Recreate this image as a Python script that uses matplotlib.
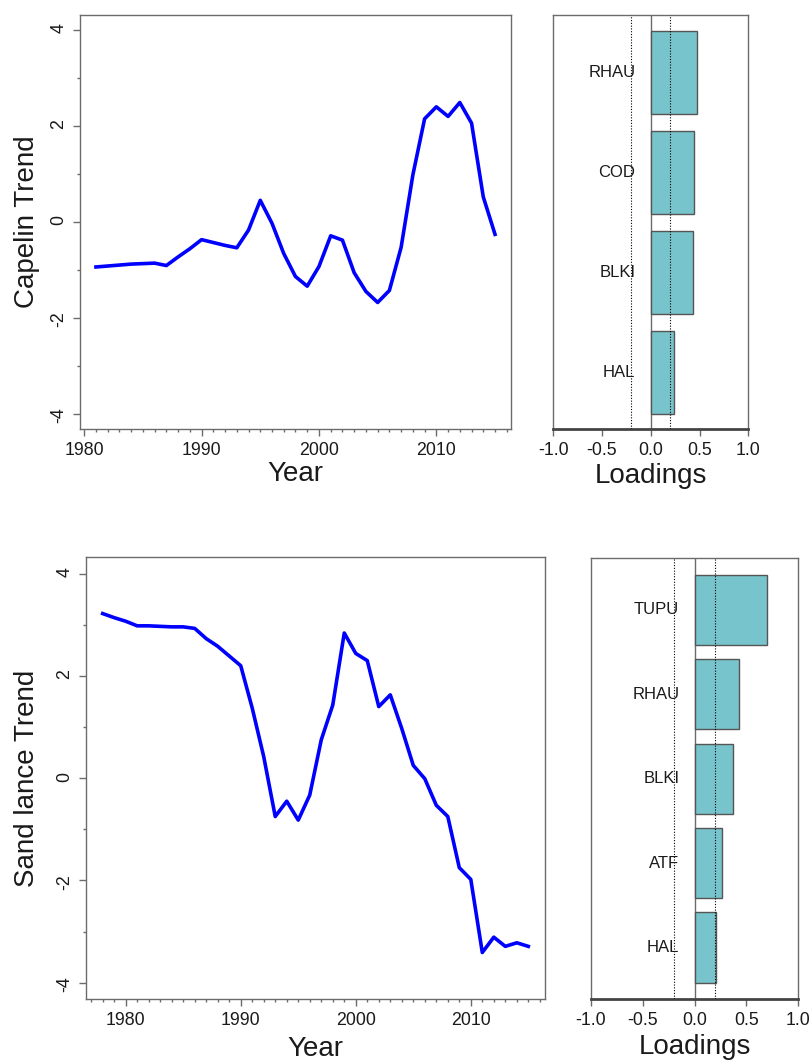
import numpy as np
import matplotlib
matplotlib.use("Agg")
import matplotlib.pyplot as plt
from matplotlib.ticker import MultipleLocator, FormatStrFormatter

plt.rcParams['font.family'] = ['Liberation Sans', 'DejaVu Sans']
plt.rcParams['axes.unicode_minus'] = False

# capelin trend (top row)
cap_years = np.arange(1981, 2016)
cap_trend = [-0.94, -0.92, -0.90, -0.88, -0.87, -0.86, -0.91, -0.73, -0.56, -0.37,
             -0.43, -0.49, -0.54, -0.17, 0.45, -0.03, -0.66, -1.14, -1.34, -0.93,
             -0.29, -0.38, -1.06, -1.45, -1.68, -1.43, -0.53, 0.98, 2.15, 2.40,
             2.20, 2.49, 2.06, 0.52, -0.26]
cap_names = ["HAL", "BLKI", "COD", "RHAU"]
cap_load = [0.24, 0.43, 0.44, 0.47]

# sand lance trend (bottom row)
sl_years = np.arange(1978, 2016)
sl_trend = [3.22, 3.14, 3.07, 2.98, 2.98, 2.97, 2.96, 2.96, 2.93, 2.73,
            2.58, 2.39, 2.20, 1.37, 0.42, -0.75, -0.45, -0.82, -0.33, 0.75,
            1.43, 2.84, 2.44, 2.30, 1.40, 1.63, 0.97, 0.25, -0.01, -0.53,
            -0.75, -1.75, -1.98, -3.41, -3.11, -3.29, -3.22, -3.29]
sl_names = ["HAL", "ATF", "BLKI", "RHAU", "TUPU"]
sl_load = [0.21, 0.26, 0.37, 0.43, 0.70]

BOX = "#6b6b6b"
BAR = "#78c4cc"
TXT = "#1a1a1a"

fig = plt.figure(figsize=(8.12, 10.62), dpi=100)


def style(ax):
    for s in ax.spines.values():
        s.set_color(BOX)
        s.set_linewidth(1)
    ax.tick_params(which='both', direction='out', color=BOX, labelcolor=TXT,
                   labelsize=12.8, top=False, right=False)
    ax.tick_params(which='major', length=5, width=1, pad=4)
    ax.tick_params(which='minor', length=2.5, width=1)


def trend_panel(rect, years, vals, ylabel, xlab_y, ylab_x):
    ax = fig.add_axes(rect)
    ax.plot(years, vals, color="#0000ff", lw=2.6, solid_joinstyle='round')
    span = years[-1] - years[0]
    ax.set_xlim(years[0] - 0.04 * span, years[-1] + 0.04 * span)
    ax.set_ylim(-4.32, 4.32)
    ax.xaxis.set_major_locator(MultipleLocator(10))
    ax.xaxis.set_minor_locator(MultipleLocator(1))
    ax.yaxis.set_major_locator(MultipleLocator(2))
    ax.yaxis.set_minor_locator(MultipleLocator(1))
    ax.yaxis.set_major_formatter(FormatStrFormatter('%d'))
    style(ax)
    ax.tick_params(axis='y', labelrotation=90)
    ax.set_xlabel("Year", fontsize=20, color=TXT)
    ax.set_ylabel(ylabel, fontsize=20, color=TXT)
    ax.xaxis.set_label_coords(0.5, xlab_y)
    ax.yaxis.set_label_coords(ylab_x, 0.5)
    return ax


def load_panel(rect, names, vals, xlab_y):
    ax = fig.add_axes(rect)
    n = len(vals)
    pos = 0.7 + 1.2 * np.arange(n)
    ax.barh(pos, vals, height=1.0, color=BAR, edgecolor="#555555", lw=1, zorder=2)
    top = 1.2 * n
    pad = 0.04 * (top - 0.2)
    ax.set_ylim(0.2 - pad, top + pad)
    ax.set_xlim(-1, 1)
    ax.axvline(0, color=BOX, lw=1, zorder=1)
    for v in (-0.2, 0.2):
        ax.axvline(v, color='black', ls=(0, (1, 1.5)), lw=0.8, zorder=3)
    for p, s in zip(pos, names):
        ax.annotate(s, (0, p), xytext=(-11, 0), textcoords='offset points',
                    ha='right', va='center', fontsize=12, color=TXT, zorder=4)
    ax.set_xticks([-1, -0.5, 0, 0.5, 1])
    ax.xaxis.set_major_formatter(FormatStrFormatter('%.1f'))
    ax.set_yticks([])
    style(ax)
    ax.spines['bottom'].set_linewidth(2)
    ax.spines['bottom'].set_color("#444444")
    ax.set_xlabel("Loadings", fontsize=20, color=TXT)
    ax.xaxis.set_label_coords(0.5, xlab_y)
    return ax


trend_panel([0.0985, 0.5960, 0.5308, 0.3901], cap_years, cap_trend,
            "Capelin Trend", -0.078, -0.093)
load_panel([0.6814, 0.5958, 0.2401, 0.3898], cap_names, cap_load, -0.082)

trend_panel([0.1055, 0.0593, 0.5661, 0.4159], sl_years, sl_trend,
            "Sand lance Trend", -0.084, -0.099)
load_panel([0.7275, 0.0593, 0.2557, 0.4149], sl_names, sl_load, -0.080)

fig.savefig("out.png", dpi=100, facecolor="white")
